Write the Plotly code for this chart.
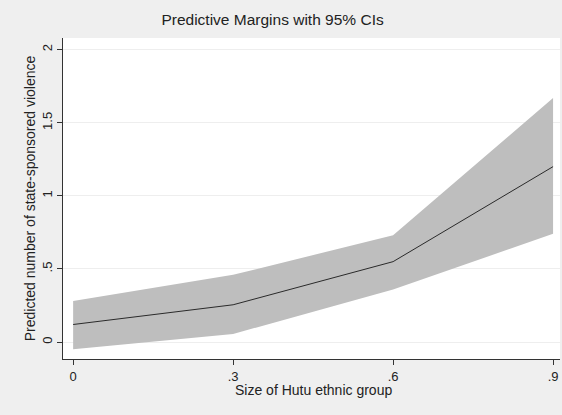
import plotly.graph_objects as go

hutu_size = [0, 0.3, 0.6, 0.9]
margin_mean = [0.12, 0.255, 0.55, 1.20]
ci_upper = [0.28, 0.46, 0.73, 1.67]
ci_lower = [-0.05, 0.055, 0.36, 0.74]
x_tick_vals = [0, 0.3, 0.6, 0.9]
x_tick_text = ["0", ".3", ".6", ".9"]
y_tick_vals = [0, 0.5, 1, 1.5, 2]
y_tick_text = ["0", ".5", "1", "1.5", "2"]

fig = go.Figure()
fig.add_trace(go.Scatter(x=hutu_size + hutu_size[::-1], y=ci_upper + ci_lower[::-1],
                         fill="toself", fillcolor="#bebebe", line=dict(width=0),
                         mode="lines", hoverinfo="skip", showlegend=False))
fig.add_trace(go.Scatter(x=hutu_size, y=margin_mean, mode="lines",
                         line=dict(color="#2a2a2a", width=1), showlegend=False))

font = dict(family="Liberation Sans, Arial, sans-serif", color="#222222")
fig.update_layout(
    width=562, height=415,
    paper_bgcolor="#efefef", plot_bgcolor="white",
    margin=dict(l=63, r=2, t=38, b=56),
    font=dict(size=13, **font),
    title=dict(text="Predictive Margins with 95% CIs", x=0.485, xref="container",
               y=0.952, yref="container", xanchor="center", yanchor="middle",
               font=dict(size=15.5, **font)),
    xaxis=dict(range=[-0.019, 0.913], tickvals=x_tick_vals, ticktext=x_tick_text,
               showgrid=False, zeroline=False, showline=True, linecolor="#333333",
               linewidth=1, ticks="outside", ticklen=5, tickcolor="#333333",
               tickfont=dict(size=13, **font)),
    yaxis=dict(range=[-0.116, 2.08], tickvals=y_tick_vals, ticktext=y_tick_text,
               tickangle=-90, showgrid=True, gridcolor="#eeeeee", gridwidth=1,
               zeroline=False, showline=True, linecolor="#333333", linewidth=1,
               ticks="outside", ticklen=5, tickcolor="#333333",
               tickfont=dict(size=13, **font),
               title=dict(text="Predicted number of state-sponsored violence", standoff=0,
                          font=dict(size=14, **font))),
    annotations=[dict(text="Size of Hutu ethnic group", xref="paper", yref="paper",
                      x=0.505, y=-0.097, xanchor="center", yanchor="middle",
                      showarrow=False, font=dict(size=14, **font))],
)
fig.write_html("out.html")
